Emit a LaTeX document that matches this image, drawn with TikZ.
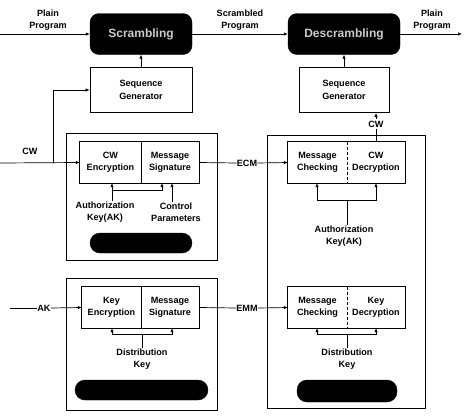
\documentclass[tikz,border=0pt]{standalone}
\usepackage{fontspec}
\setmainfont{Liberation Sans}
\usetikzlibrary{arrows.meta,calc}
\begin{document}
\begin{tikzpicture}[x=1pt,y=-1pt,
  lbl/.style={font=\fontsize{9.1}{12.5}\selectfont\bfseries, align=center, inner sep=0pt},
  cell/.style={lbl, minimum height=41pt, minimum width=59pt},
  frame/.style={draw, line width=0.9pt},
  pill/.style={fill=black, draw=black, rounded corners=10pt, inner sep=0pt},
  toppill/.style={fill=black, draw=black, rounded corners=9pt, inner sep=0pt, minimum height=41pt,
     font=\fontsize{12}{14}\selectfont\bfseries, text=gray!40},
  sbox/.style={lbl, draw, line width=0.8pt, minimum height=45pt},
  arr/.style={-{Latex[length=4pt,width=3.4pt]}, line width=0.7pt},
  ln/.style={line width=0.7pt},
  wlbl/.style={lbl, fill=white, inner sep=1.5pt}
]
\useasboundingbox (0,0) rectangle (464,418);

% ---- top row ----
\node[toppill, minimum width=102pt] (scr) at (141,34) {Scrambling};
\node[toppill, minimum width=112pt] (dscr) at (344,34) {Descrambling};
\node[sbox, minimum width=102pt] (seqL) at (141,90) {Sequence\\Generator};
\node[sbox, minimum width=90pt] (seqR) at (344,90) {Sequence\\Generator};

\coordinate (pin) at (0,34);
\coordinate (pout) at (462,34);
\node[lbl] (plainL) at (48,20) {Plain\\Program};
\node[lbl] (scrlbl) at (240,20) {Scrambled\\Program};
\node[lbl] (plainR) at (432,20) {Plain\\Program};
\draw[arr] (pin) -- (scr.west);
\draw[arr] (scr.east) -- (dscr.west);
\draw[arr] (dscr.east) -- (pout);
\draw[arr] (seqL.north) -- (scr.south);
\draw[arr] (seqR.north) -- (dscr.south);

% ---- left ECM block ----
\node[frame, minimum width=151pt, minimum height=127pt, inner sep=0pt] (ecmOut) at (141.5,196.5) {};
\node[cell, minimum width=61pt] (encL) at (110.5,162.5) {CW\\Encryption};
\node[cell, minimum width=58pt] (sigL) at (170,162.5) {Message\\Signature};
\draw[ln] (encL.north west) rectangle (sigL.south east);
\draw[ln] (encL.north east) -- (encL.south east);
\node[lbl] (authL) at (105,212) {Authorization\\Key(AK)};
\node[lbl] (ctrlL) at (176,212) {Control\\Parameters};
\coordinate (jL) at (112,190);
\coordinate (jL2) at (162,190);
\draw[arr] (authL.north -| jL) -- (encL.south -| jL);
\draw[arr] (jL) -- (jL2) -- (sigL.south -| jL2);
\draw[arr] (ctrlL.north -| 172,0) -- (sigL.south -| 172,0);
\node[pill, minimum width=102pt, minimum height=20pt] (pillL1) at (141,243) {};

\coordinate (cwin) at (0,163);
\coordinate (br) at (53,163);
\node[lbl] (cwlbl) at (30,151) {CW};
\draw[arr] (cwin) -- (encL.west);
\draw[arr] (br) |- (seqL.west);

\node[lbl] (ecmlbl) at (247,163) {ECM};
\draw[ln] (sigL.east) -- (ecmlbl.west);

% ---- left EMM block ----
\node[frame, minimum width=151pt, minimum height=132pt, inner sep=0pt] (emmOut) at (141.5,344) {};
\node[cell, minimum width=59pt] (keyE) at (111.5,307.5) {Key\\Encryption};
\node[cell, minimum width=58pt] (sigL2) at (170,307.5) {Message\\Signature};
\draw[ln] (keyE.north west) rectangle (sigL2.south east);
\draw[ln] (keyE.north east) -- (keyE.south east);
\node[lbl] (distL) at (142,359) {Distribution\\Key};
\coordinate (bL1) at (112,334);
\coordinate (bL2) at (172,334);
\coordinate (bLm) at (142,334);
\draw[ln] (distL.north -| bLm) -- (bLm);
\draw[arr] (bLm) -- (bL1) -- (keyE.south -| bL1);
\draw[arr] (bLm) -- (bL2) -- (sigL2.south -| bL2);
\node[pill, minimum width=133pt, minimum height=20pt] (pillL2) at (141.5,390) {};

\coordinate (akin) at (10,308);
\node[lbl] (aklbl) at (44,308) {AK};
\draw[ln] (akin) -- (aklbl.west);
\draw[arr] (aklbl.east) -- (keyE.west);

\node[lbl] (emmlbl) at (247,308) {EMM};
\draw[ln] (sigL2.east) -- (emmlbl.west);

% ---- right receiver block ----
\node[frame, minimum width=158pt, minimum height=273pt, inner sep=0pt] (rxOut) at (346,271.5) {};
\node[cell, minimum width=59pt] (chkR) at (317.5,162.5) {Message\\Checking};
\node[cell, minimum width=58pt] (decR) at (376,162.5) {CW\\Decryption};
\draw[ln] (chkR.north west) rectangle (decR.south east);
\draw[ln, dashed, dash pattern=on 3pt off 2pt] (chkR.north east) -- (chkR.south east);
\draw[arr] (ecmlbl.east) -- (chkR.west);

\node[wlbl] (cwR) at (376,124) {CW};
\draw[ln] (decR.north) -- (cwR.south);
\draw[arr] (cwR.north) -- (seqR.south -| cwR.north);

\node[lbl] (authR) at (344,236) {Authorization\\Key(AK)};
\coordinate (aR1) at (317,200);
\coordinate (aR2) at (376,200);
\coordinate (aRm) at (347,200);
\draw[ln] (authR.north -| aRm) -- (aRm);
\draw[arr] (aRm) -- (aR1) -- (chkR.south -| aR1);
\draw[arr] (aRm) -- (aR2) -- (decR.south -| aR2);

\node[cell, minimum width=59pt] (chkR2) at (317.5,307.5) {Message\\Checking};
\node[cell, minimum width=58pt] (decR2) at (376,307.5) {Key\\Decryption};
\draw[ln] (chkR2.north west) rectangle (decR2.south east);
\draw[ln, dashed, dash pattern=on 3pt off 2pt] (chkR2.north east) -- (chkR2.south east);
\draw[arr] (emmlbl.east) -- (chkR2.west);

\node[lbl] (distR) at (347,359) {Distribution\\Key};
\coordinate (bR1) at (317,334);
\coordinate (bR2) at (376,334);
\coordinate (bRm) at (347,334);
\draw[ln] (distR.north -| bRm) -- (bRm);
\draw[arr] (bRm) -- (bR1) -- (chkR2.south -| bR1);
\draw[arr] (bRm) -- (bR2) -- (decR2.south -| bR2);
\node[pill, minimum width=100pt, minimum height=22pt] (pillR) at (347,391) {};
\end{tikzpicture}
\end{document}
